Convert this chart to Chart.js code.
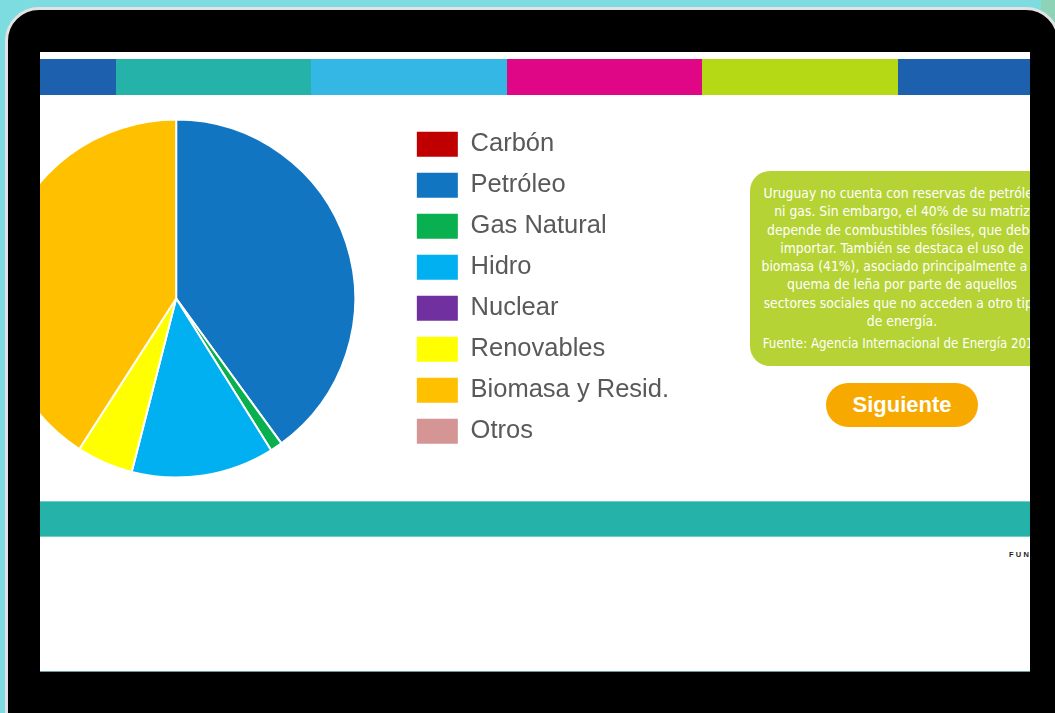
<!DOCTYPE html>
<html>
<head>
<meta charset="utf-8">
<script src="https://cdn.jsdelivr.net/npm/chart.js@4.4.1/dist/chart.umd.min.js"></script>
<style>
  html, body { margin: 0; padding: 0; }
  body { width: 1055px; height: 713px; overflow: hidden; background: #7ddcdf; position: relative; font-family: "Liberation Sans", Arial, sans-serif; }
  #corner { position: absolute; right: 0; top: 0; width: 14px; height: 22px; background: #8fd3b6; }
  #frame { position: absolute; left: 5px; top: 7px; width: 1049px; height: 760px; background: #000; border: 3px solid #e2e2e2; border-radius: 34px; }
  #screen { position: absolute; left: 40px; top: 52px; width: 990px; height: 619px; background: #fff; overflow: hidden; border-bottom: 1px solid #6f98a3; }
  #stripes { position: absolute; left: 0; top: 7px; height: 36px; width: 990px; display: flex; }
  #stripes div { height: 100%; }
  #pie { position: absolute; left: -89.5px; top: 63.5px; }
  #note { position: absolute; left: 710px; top: 119px; width: 304px; height: 195px; background: #b5d334; border-radius: 20px;
          color: #fff; font-family: "DejaVu Sans Condensed", "DejaVu Sans", sans-serif; font-size: 13.8px; line-height: 18.3px;
          text-align: center; box-sizing: border-box; padding-top: 13px; white-space: nowrap; }
  #note .src { margin-top: 5px; font-size: 13.2px; }
  #next { position: absolute; left: 786px; top: 331px; width: 152px; height: 44px; background: #f7a900; border-radius: 22px;
          color: #fff; font-weight: bold; font-size: 22px; line-height: 44px; text-align: center; }
  #band { position: absolute; left: 0; top: 449px; width: 990px; height: 36px; background: #25b2a9; border-top: 1px solid #6fcfc6; border-bottom: 1px solid #6fcfc6; box-sizing: border-box; }
  #brand { position: absolute; left: 969px; top: 498px; font-size: 7.5px; font-weight: bold; letter-spacing: 2.2px; color: #222; white-space: nowrap; }
</style>
</head>
<body>
<div id="corner"></div>
<div id="frame"></div>
<div id="screen">
  <div id="stripes">
    <div style="width:76px;background:#1d60ad"></div>
    <div style="width:195px;background:#25b2a8"></div>
    <div style="width:196px;background:#35b7e5"></div>
    <div style="width:195px;background:#e00787"></div>
    <div style="width:196px;background:#b6d916"></div>
    <div style="width:132px;background:#1d60ad"></div>
  </div>
  <canvas id="pie" width="728" height="365"></canvas>
  <div id="note">
    Uruguay no cuenta con reservas de petróleo<br>
    ni gas. Sin embargo, el 40% de su matriz<br>
    depende de combustibles fósiles, que debe<br>
    importar. También se destaca el uso de<br>
    biomasa (41%), asociado principalmente a la<br>
    quema de leña por parte de aquellos<br>
    sectores sociales que no acceden a otro tipo<br>
    de energía.
    <div class="src">Fuente: Agencia Internacional de Energía 2014</div>
  </div>
  <div id="next">Siguiente</div>
  <div id="band"></div>
  <div id="brand">FUNDACIÓN</div>
</div>
<script>
// matriz energética de Uruguay, % del total
const categories = ['Carbón', 'Petróleo', 'Gas Natural', 'Hidro', 'Nuclear', 'Renovables', 'Biomasa y Resid.', 'Otros'];
const shares = [0, 40, 1.1, 12.9, 0, 5.1, 40.9, 0];
const sliceColors = ['#c00000', '#1275c2', '#08b04f', '#00b0f0', '#7030a0', '#ffff00', '#ffc000', '#d59594'];

new Chart(document.getElementById('pie'), {
  type: 'pie',
  data: {
    labels: categories,
    datasets: [{
      data: shares,
      backgroundColor: sliceColors,
      borderColor: '#ffffff',
      borderWidth: 2,
      radius: 179,
      hoverOffset: 0
    }]
  },
  options: {
    responsive: false,
    animation: false,
    layout: { padding: 0 },
    plugins: {
      tooltip: { enabled: false },
      legend: {
        position: 'right',
        align: 'start',
        labels: {
          boxWidth: 41,
          boxHeight: 25,
          padding: 15.5,
          color: '#595959',
          font: { family: '"Liberation Sans", Arial, sans-serif', size: 25.5 },
          generateLabels(chart) {
            const items = Chart.overrides.pie.plugins.legend.labels.generateLabels(chart);
            items.forEach(it => { it.lineWidth = 0; it.strokeStyle = 'rgba(0,0,0,0)'; });
            return items;
          }
        }
      }
    }
  }
});
</script>
</body>
</html>
